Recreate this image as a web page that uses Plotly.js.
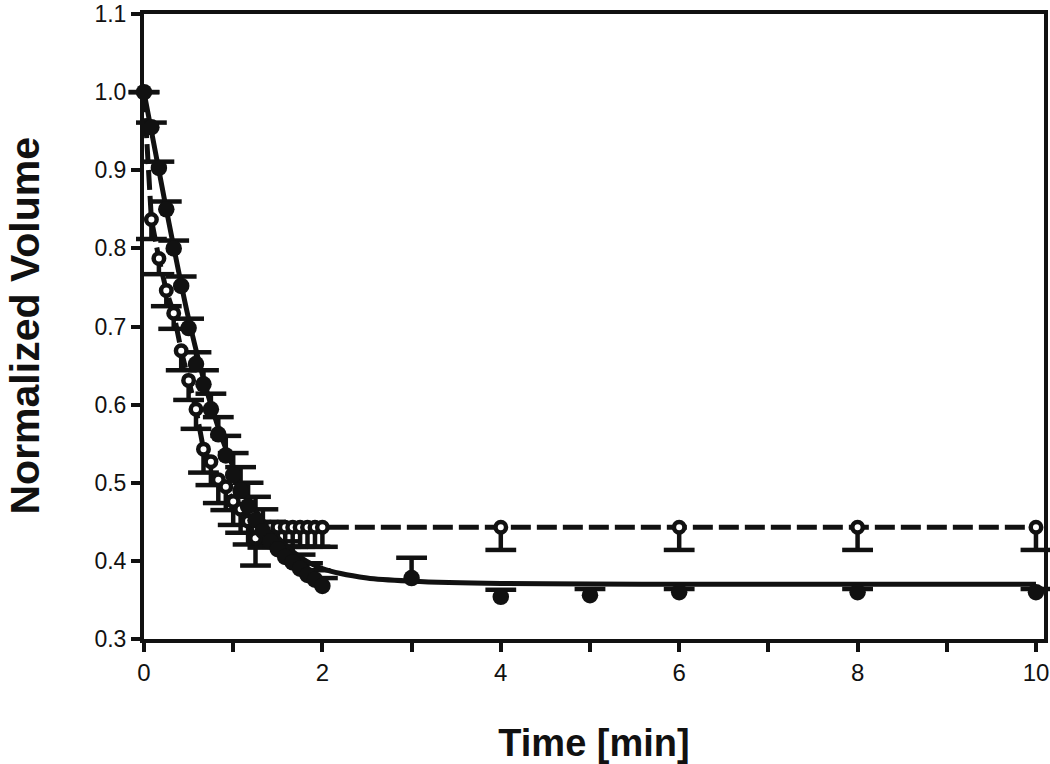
<!DOCTYPE html>
<html>
<head>
<meta charset="utf-8">
<script src="https://cdn.plot.ly/plotly-3.0.1.min.js"></script>
<style>
html,body{margin:0;padding:0;background:#fff;}
#chart{width:1050px;height:764px;}
</style>
</head>
<body>
<div id="chart"></div>
<script>
// ---- data ----
var filledTime = [0,0.083,0.167,0.25,0.333,0.417,0.5,0.583,0.667,0.75,0.833,0.917,1.0,1.083,1.167,1.25,1.333,1.417,1.5,1.583,1.667,1.75,1.833,1.917,2.0,3,4,5,6,8,10];
var filledVolume = [1.0,0.955,0.903,0.85,0.80,0.752,0.698,0.652,0.626,0.594,0.562,0.535,0.51,0.49,0.47,0.452,0.438,0.425,0.415,0.405,0.398,0.39,0.382,0.376,0.368,0.378,0.354,0.356,0.36,0.36,0.36];
var filledErrUp = [0,0.006,0.008,0.01,0.01,0.012,0.012,0.015,0.018,0.02,0.022,0.025,0.028,0.03,0.03,0.03,0.028,0.025,0.022,0.02,0.02,0.018,0.015,0.012,0.01,0.026,0.009,0.008,0.004,0.004,0.004];

var openTime = [0,0.083,0.167,0.25,0.333,0.417,0.5,0.583,0.667,0.75,0.833,0.917,1.0,1.083,1.167,1.25,1.333,1.417,1.5,1.583,1.667,1.75,1.833,1.917,2.0,4,6,8,10];
var openVolume = [1.0,0.837,0.787,0.746,0.717,0.669,0.631,0.594,0.543,0.527,0.504,0.495,0.476,0.466,0.451,0.429,0.442,0.443,0.443,0.443,0.443,0.443,0.443,0.443,0.443,0.443,0.443,0.443,0.443];
var openErrDown = [0,0.025,0.02,0.02,0.02,0.025,0.025,0.025,0.03,0.03,0.03,0.03,0.03,0.03,0.03,0.035,0.025,0.025,0.025,0.025,0.025,0.025,0.025,0.025,0.025,0.029,0.029,0.029,0.029];

// fitted curve for the filled series
var fitTime = [0,0.25,0.5,0.75,1.0,1.25,1.5,1.75,2.0,2.5,3.0,4.0,5.0,6.0,8.0,10.0];
var fitVolume = [1.0,0.85,0.71,0.60,0.52,0.465,0.43,0.405,0.39,0.378,0.374,0.371,0.3705,0.370,0.370,0.370];

var xTickVals = [0,1,2,3,4,5,6,7,8,9,10];
var xTickText = ['0','','2','','4','','6','','8','','10'];
var yTickVals = [0.3,0.4,0.5,0.6,0.7,0.8,0.9,1.0,1.1];
var yTickText = ['0.3','0.4','0.5','0.6','0.7','0.8','0.9','1.0','1.1'];

// ---- derived helpers ----
var zeros = function(a){ return a.map(function(){ return 0; }); };
var filledCapY = filledVolume.map(function(v,i){ return v + filledErrUp[i]; });
var openCapY = openVolume.map(function(v,i){ return v - openErrDown[i]; });

var capSize = 22, capW = 4.5;
var FONT = 'Liberation Sans, Arial, sans-serif';

var traces = [
  // error stems (no caps)
  {x: filledTime, y: filledVolume, mode: 'markers', marker: {opacity: 0, size: 1},
   error_y: {type: 'data', symmetric: false, array: filledErrUp, arrayminus: zeros(filledErrUp),
             color: '#111', thickness: 4.5, width: 0}, hoverinfo: 'skip', cliponaxis: false},
  {x: openTime, y: openVolume, mode: 'markers', marker: {opacity: 0, size: 1},
   error_y: {type: 'data', symmetric: false, array: zeros(openErrDown), arrayminus: openErrDown,
             color: '#111', thickness: 4.5, width: 0}, hoverinfo: 'skip', cliponaxis: false},
  // caps
  {x: filledTime, y: filledCapY, mode: 'markers',
   marker: {symbol: 'line-ew', size: capSize, line: {color: '#111', width: capW}}, hoverinfo: 'skip', cliponaxis: false},
  {x: openTime, y: openCapY, mode: 'markers',
   marker: {symbol: 'line-ew', size: capSize, line: {color: '#111', width: capW}}, hoverinfo: 'skip', cliponaxis: false},
  // fitted solid curve
  {x: fitTime, y: fitVolume, mode: 'lines', line: {color: '#111', width: 5, shape: 'spline', smoothing: 0.8}, cliponaxis: false},
  // dashed line through open points
  {x: openTime, y: openVolume, mode: 'lines', line: {color: '#111', width: 5, dash: '20px,6px'}, cliponaxis: false},
  // open markers (the t=0 one is hidden under the filled marker)
  {x: openTime.slice(1), y: openVolume.slice(1), mode: 'markers',
   marker: {symbol: 'circle', size: 10.5, color: '#fff', line: {color: '#111', width: 4.5}}, cliponaxis: false},
  // filled markers
  {x: filledTime, y: filledVolume, mode: 'markers',
   marker: {symbol: 'circle', size: 16.5, color: '#111', line: {width: 0}}, cliponaxis: false}
];

var layout = {
  width: 1050, height: 764,
  margin: {l: 144, r: 6, t: 14, b: 125},
  paper_bgcolor: '#fff', plot_bgcolor: '#fff',
  showlegend: false,
  font: {family: FONT, color: '#111'},
  xaxis: {
    range: [0, 10.09], tickvals: xTickVals, ticktext: xTickText,
    ticks: 'outside', ticklen: 9, tickwidth: 4, tickcolor: '#111',
    showline: true, linewidth: 4, linecolor: '#111', mirror: true,
    showgrid: false, zeroline: false, ticklabeloverflow: 'allow',
    tickfont: {size: 24, family: FONT, color: '#111'},
    title: {text: 'Time [min]', font: {size: 38, family: FONT, weight: 'bold', color: '#111'}, standoff: 46}
  },
  yaxis: {
    range: [0.3, 1.1], tickvals: yTickVals, ticktext: yTickText,
    ticks: 'outside', ticklen: 9, tickwidth: 4, tickcolor: '#111',
    showline: true, linewidth: 4, linecolor: '#111', mirror: true,
    showgrid: false, zeroline: false, ticklabeloverflow: 'allow',
    tickfont: {size: 23, family: FONT, color: '#111'}
  },
  annotations: [{
    text: 'Normalized Volume', textangle: -90, showarrow: false,
    xref: 'paper', yref: 'paper', x: 0, y: 0.5, xanchor: 'center', yanchor: 'middle',
    xshift: -120,
    font: {size: 41, family: FONT, weight: 'bold', color: '#111'}
  }]
};

Plotly.newPlot('chart', traces, layout, {displayModeBar: false, staticPlot: true});
</script>
</body>
</html>
